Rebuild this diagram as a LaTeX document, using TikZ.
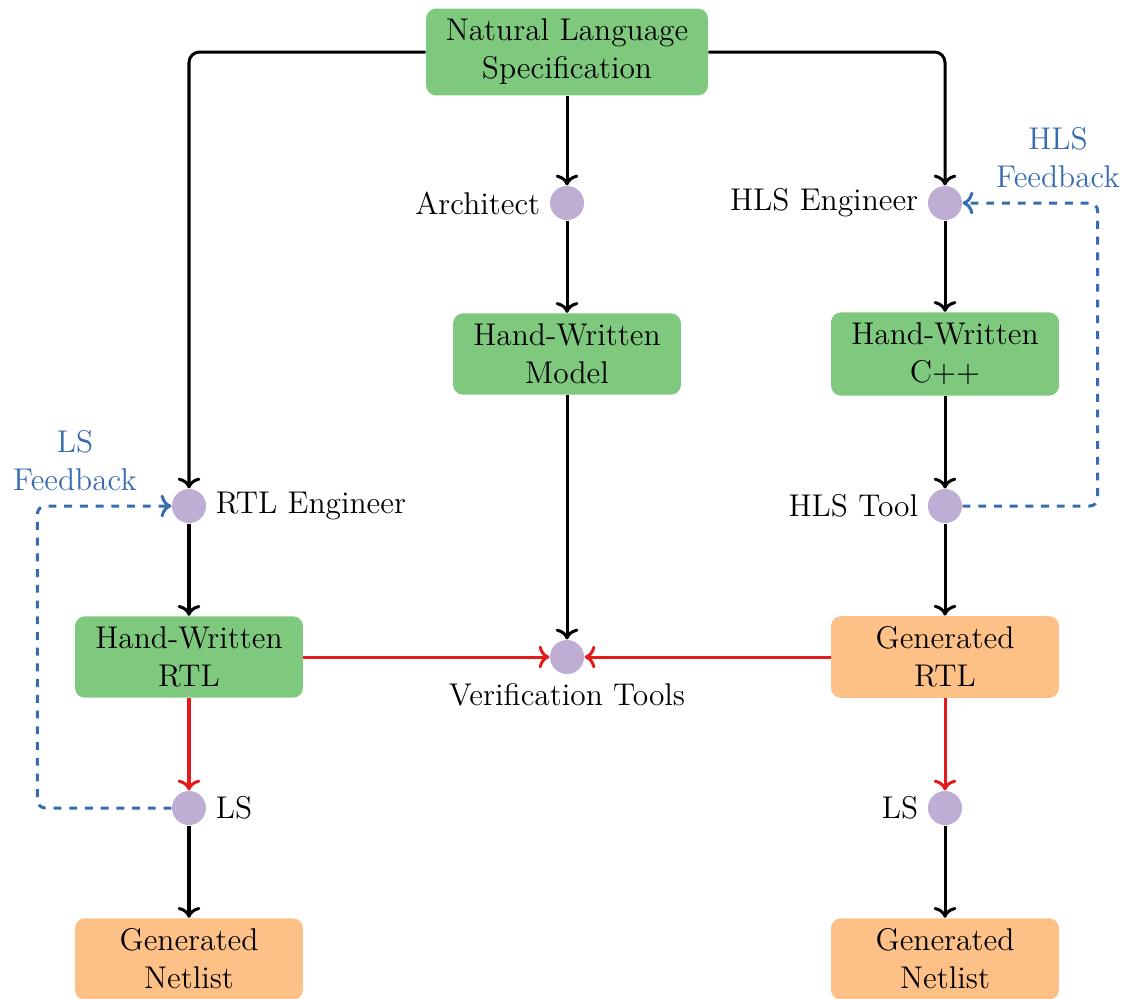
\documentclass[tikz,border=0pt]{standalone}
\usetikzlibrary{arrows.meta}
\definecolor{boxgreen}{HTML}{7FC97F}
\definecolor{dotpurple}{HTML}{BEAED4}
\definecolor{boxorange}{HTML}{FDC086}
\definecolor{fbblue}{HTML}{386CB0}
\definecolor{flowred}{HTML}{E41A1C}
\begin{document}
\begin{tikzpicture}[x=0.38168pt, y=-0.38168pt,
  font=\fontsize{12}{14.5}\selectfont,
  box/.style={rounded corners=3.8pt, align=center, minimum width=87pt,
    minimum height=31pt, inner xsep=7.5pt, inner ysep=4pt},
  hand/.style={box, fill=boxgreen},
  gen/.style={box, fill=boxorange},
  dot/.style={circle, fill=dotpurple, minimum size=13pt, inner sep=0pt},
  flow/.style={line width=1.15pt, ->},
  redflow/.style={flow, draw=flowred},
  fb/.style={line width=1.15pt, ->, draw=fbblue, dashed, rounded corners=3pt},
  fbtext/.style={text=fbblue, align=center}]
\useasboundingbox (0,0) rectangle (1126,998);

% design entry
\node[hand] (spec) at (567,52) {Natural Language\\Specification};

% agents and tools
\node[dot, label=left:Architect] (arch) at (567,203) {};
\node[dot, label=left:HLS Engineer] (hlseng) at (945,203) {};
\node[dot, label=right:RTL Engineer] (rtleng) at (189,506) {};
\node[dot, label=left:HLS Tool] (hlstool) at (945,506) {};
\node[dot, label=below:Verification Tools] (verif) at (567,657) {};
\node[dot, label=right:LS] (lsL) at (189,808) {};
\node[dot, label=left:LS] (lsR) at (945,808) {};

% artefacts
\node[hand] (model) at (567,354) {Hand-Written\\Model};
\node[hand] (cpp) at (945,354) {Hand-Written\\C++};
\node[hand] (hwrtl) at (189,657) {Hand-Written\\RTL};
\node[gen] (genrtl) at (945,657) {Generated\\RTL};
\node[gen] (netL) at (189,959) {Generated\\Netlist};
\node[gen] (netR) at (945,959) {Generated\\Netlist};

% design flow
\draw[flow, rounded corners=4pt] (spec.west) -| (rtleng);
\draw[flow, rounded corners=4pt] (spec.east) -| (hlseng);
\draw[flow] (spec) -- (arch);
\draw[flow] (arch) -- (model);
\draw[flow] (hlseng) -- (cpp);
\draw[flow] (cpp) -- (hlstool);
\draw[flow] (hlstool) -- (genrtl);
\draw[flow] (rtleng) -- (hwrtl);
\draw[flow] (model) -- (verif);
\draw[flow] (lsL) -- (netL);
\draw[flow] (lsR) -- (netR);

% verification and synthesis inputs
\draw[redflow] (hwrtl) -- (verif);
\draw[redflow] (genrtl) -- (verif);
\draw[redflow] (hwrtl) -- (lsL);
\draw[redflow] (genrtl) -- (lsR);

% feedback loops
\draw[fb] (hlstool.east) -- ++(135,0) |- (hlseng.east);
\draw[fb] (lsL.west) -- ++(-134,0) |- (rtleng.west);
\node[fbtext] (hlsfb) at (1058,158) {HLS\\Feedback};
\node[fbtext] (lsfb) at (75,461) {LS\\Feedback};
\end{tikzpicture}
\end{document}
